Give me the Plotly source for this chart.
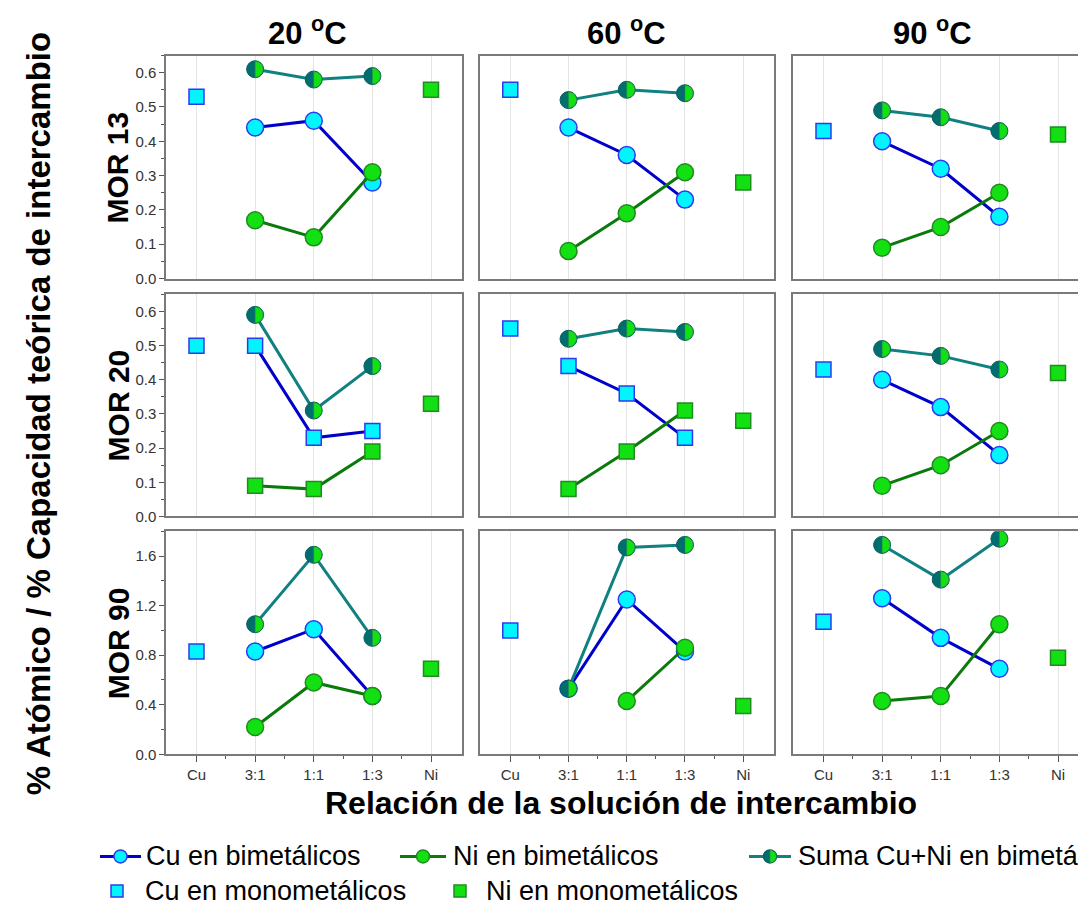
import plotly.graph_objects as go

# ---------------- data ----------------
categories = ["Cu", "3:1", "1:1", "1:3", "Ni"]
ratios = ["3:1", "1:1", "1:3"]
temperatures = ["20", "60", "90"]
samples = ["MOR 13", "MOR 20", "MOR 90"]

# each list: one entry per temperature (20, 60, 90 °C); inner lists follow `ratios`
cu_bi_mor13 = [[0.44, 0.46, 0.28], [0.44, 0.36, 0.23], [0.40, 0.32, 0.18]]
ni_bi_mor13 = [[0.17, 0.12, 0.31], [0.08, 0.19, 0.31], [0.09, 0.15, 0.25]]
sum_mor13 = [[0.61, 0.58, 0.59], [0.52, 0.55, 0.54], [0.49, 0.47, 0.43]]
cu_mono_mor13 = [0.53, 0.55, 0.43]
ni_mono_mor13 = [0.55, 0.28, 0.42]

cu_bi_mor20 = [[0.50, 0.23, 0.25], [0.44, 0.36, 0.23], [0.40, 0.32, 0.18]]
ni_bi_mor20 = [[0.09, 0.08, 0.19], [0.08, 0.19, 0.31], [0.09, 0.15, 0.25]]
sum_mor20 = [[0.59, 0.31, 0.44], [0.52, 0.55, 0.54], [0.49, 0.47, 0.43]]
cu_mono_mor20 = [0.50, 0.55, 0.43]
ni_mono_mor20 = [0.33, 0.28, 0.42]

cu_bi_mor90 = [[0.83, 1.01, 0.47], [0.53, 1.25, 0.83], [1.26, 0.94, 0.69]]
ni_bi_mor90 = [[0.22, 0.58, 0.47], [None, 0.43, 0.86], [0.43, 0.47, 1.05]]
sum_mor90 = [[1.05, 1.61, 0.94], [0.53, 1.67, 1.69], [1.69, 1.41, 1.74]]
cu_mono_mor90 = [0.83, 1.00, 1.07]
ni_mono_mor90 = [0.69, 0.39, 0.78]

legend_labels = ["Cu en bimetálicos", "Ni en bimetálicos", "Suma Cu+Ni en bimetálicos",
                 "Cu en monometálicos", "Ni en monometálicos"]

cu_bi = [cu_bi_mor13, cu_bi_mor20, cu_bi_mor90]
ni_bi = [ni_bi_mor13, ni_bi_mor20, ni_bi_mor90]
sum_bi = [sum_mor13, sum_mor20, sum_mor90]
cu_mono = [cu_mono_mor13, cu_mono_mor20, cu_mono_mor90]
ni_mono = [ni_mono_mor13, ni_mono_mor20, ni_mono_mor90]

# ---------------- style ----------------
W, H = 1078, 911
FONT = "Liberation Sans, Arial, sans-serif"
bi_symbols = [["circle"] * 3, ["square", "square", "circle"], ["circle"] * 3]

CYAN, BLUE_EDGE, BLUE_LINE = "#00F5FF", "#2B3BF0", "#0000CC"
LIME, GREEN_EDGE, GREEN_LINE = "#12E012", "#1E8C1E", "#0A7A0A"
TEAL_DARK, TEAL_LINE = "#006E6E", "#118080"
FRAME = "#7a7a7a"

col_px = [(166, 461.5), (480, 773.5), (793, 1078)]
row_px = [(56, 281), (297, 521), (536, 761)]
px_per_unit = (col_px[0][1] - col_px[0][0]) / 5.04
x_ranges = [[-0.52, 4.52], [-0.52, 4.52],
            [-0.52, -0.52 + (col_px[2][1] - col_px[2][0]) / px_per_unit]]
y_ranges = [[0, 0.65], [0, 0.65], [0, 1.8]]
y_dtick = [0.1, 0.1, 0.4]

R = 8.0  # half-marker radius in px
K = 0.5523


def half_shape(xref, yref, xv, yv, r=R):
    p = (f"M 0,{-r} C {K*r},{-r} {r},{-K*r} {r},0 "
         f"C {r},{K*r} {K*r},{r} 0,{r} Z")
    return dict(type="path", xref=xref, yref=yref, xsizemode="pixel", ysizemode="pixel",
                xanchor=xv, yanchor=yv, path=p, fillcolor=LIME,
                line=dict(color="#2a8a4a", width=0.6), layer="above")


fig = go.Figure()
layout = {}
shapes = []
annotations = []
x_ratio = [categories.index(q) for q in ratios]

for r, s in enumerate(samples):
    for c, t in enumerate(temperatures):
        k = r * 3 + c + 1
        xa = "x" if k == 1 else f"x{k}"
        ya = "y" if k == 1 else f"y{k}"
        sym = bi_symbols[r][c]
        msize = 17 if sym == "circle" else 15

        fig.add_trace(go.Scatter(
            x=x_ratio, y=cu_bi[r][c], mode="lines+markers", xaxis=xa, yaxis=ya,
            line=dict(color=BLUE_LINE, width=3),
            marker=dict(symbol=sym, size=msize, color=CYAN, line=dict(color=BLUE_EDGE, width=1.5)),
            showlegend=False, hoverinfo="skip"))
        fig.add_trace(go.Scatter(
            x=x_ratio, y=ni_bi[r][c], mode="lines+markers", xaxis=xa, yaxis=ya,
            line=dict(color=GREEN_LINE, width=3),
            marker=dict(symbol=sym, size=msize, color=LIME, line=dict(color=GREEN_EDGE, width=1.5)),
            showlegend=False, hoverinfo="skip"))
        fig.add_trace(go.Scatter(
            x=x_ratio, y=sum_bi[r][c], mode="lines+markers", xaxis=xa, yaxis=ya,
            line=dict(color=TEAL_LINE, width=3),
            marker=dict(symbol="circle", size=17, color=TEAL_DARK, line=dict(color="#0b5f5f", width=1)),
            showlegend=False, hoverinfo="skip"))
        for xv, yv in zip(x_ratio, sum_bi[r][c]):
            shapes.append(half_shape(xa, ya, xv, yv))
        fig.add_trace(go.Scatter(
            x=[categories.index("Cu")], y=[cu_mono[r][c]], mode="markers", xaxis=xa, yaxis=ya,
            marker=dict(symbol="square", size=15, color=CYAN, line=dict(color=BLUE_EDGE, width=1.5)),
            showlegend=False, hoverinfo="skip"))
        fig.add_trace(go.Scatter(
            x=[categories.index("Ni")], y=[ni_mono[r][c]], mode="markers", xaxis=xa, yaxis=ya,
            marker=dict(symbol="square", size=15, color=LIME, line=dict(color=GREEN_EDGE, width=1.5)),
            showlegend=False, hoverinfo="skip"))

        x0, x1 = col_px[c]
        y0, y1 = row_px[r]
        xdict = dict(
            domain=[x0 / W, x1 / W], range=x_ranges[c], anchor=ya,
            tickmode="array", tickvals=list(range(len(categories))), ticktext=categories,
            showticklabels=(r == 2), ticks="outside" if r == 2 else "", ticklen=6,
            tickcolor="#555", tickwidth=1,
            showgrid=True, gridcolor="#E4E4E4", gridwidth=1,
            showline=True, mirror=True, linecolor=FRAME, linewidth=1.5, zeroline=False,
            tickfont=dict(size=15, color="#333", family=FONT), fixedrange=True)
        if r == 2:
            xdict["minor"] = dict(ticks="outside", ticklen=3, tickmode="array",
                                  tickvals=[0.5, 1.5, 2.5, 3.5], tickcolor="#555", showgrid=False)
        ydict = dict(
            domain=[1 - y1 / H, 1 - y0 / H], range=y_ranges[r], anchor=xa,
            showticklabels=(c == 0), ticks="outside" if c == 0 else "", ticklen=5,
            tickcolor="#555", dtick=y_dtick[r], tick0=0, tickformat=".1f",
            showgrid=False, zeroline=False,
            showline=True, mirror=(c < 2), linecolor=FRAME, linewidth=1.5,
            tickfont=dict(size=15, color="#333", family=FONT), fixedrange=True)
        if c == 0:
            ydict["minor"] = dict(ticks="outside", ticklen=3, dtick=y_dtick[r] / 2,
                                  tick0=0, tickcolor="#555", showgrid=False)
        layout["xaxis" if k == 1 else f"xaxis{k}"] = xdict
        layout["yaxis" if k == 1 else f"yaxis{k}"] = ydict

# ---------------- text ----------------
title_px = [(307, 31), (626, 31), (932, 31)]
for (px, py), t in zip(title_px, temperatures):
    annotations.append(dict(text=f"<b>{t} <sup>o</sup>C</b>", x=px / W, y=1 - py / H,
                            xref="paper", yref="paper", showarrow=False,
                            font=dict(size=31, color="black", family=FONT),
                            xanchor="center", yanchor="middle"))
row_label_px = [(118, 169), (118, 409), (118, 649)]
for (px, py), s in zip(row_label_px, samples):
    annotations.append(dict(text=f"<b>{s}</b>", x=px / W, y=1 - py / H,
                            xref="paper", yref="paper", showarrow=False, textangle=-90,
                            font=dict(size=30, color="black", family=FONT),
                            xanchor="center", yanchor="middle"))
annotations.append(dict(text="<b>% Atómico / % Capacidad teórica de intercambio</b>",
                        x=38 / W, y=1 - 418 / H, xref="paper", yref="paper",
                        showarrow=False, textangle=-90,
                        font=dict(size=33, color="black", family=FONT),
                        xanchor="center", yanchor="middle"))
annotations.append(dict(text="<b>Relación de la solución de intercambio</b>",
                        x=621 / W, y=1 - 810 / H, xref="paper", yref="paper",
                        showarrow=False, font=dict(size=32, color="black", family=FONT),
                        xanchor="center", yanchor="middle"))

# ---------------- manual legend (auxiliary pixel axes) ----------------
LEG_TOP = 821
LEG_FONT = 27
layout["xaxis10"] = dict(domain=[0, 1], range=[0, W], visible=False, fixedrange=True, anchor="y10")
layout["yaxis10"] = dict(domain=[0, (H - LEG_TOP) / H], range=[H, LEG_TOP], visible=False,
                         fixedrange=True, anchor="x10")
row1, row2 = 864, 899
leg_lines = [(100, 141, BLUE_LINE, CYAN, BLUE_EDGE, 144),
             (400, 446, GREEN_LINE, LIME, GREEN_EDGE, 451),
             (749, 791, TEAL_LINE, TEAL_DARK, "#0b5f5f", 796)]
for i, (a, b, lc, fc, ec, tx) in enumerate(leg_lines):
    fig.add_trace(go.Scatter(x=[a, b], y=[row1, row1], mode="lines", xaxis="x10", yaxis="y10",
                             line=dict(color=lc, width=3), showlegend=False, hoverinfo="skip",
                             cliponaxis=False))
    fig.add_trace(go.Scatter(x=[(a + b) / 2], y=[row1], mode="markers", xaxis="x10", yaxis="y10",
                             marker=dict(symbol="circle", size=13, color=fc, line=dict(color=ec, width=1.5)),
                             showlegend=False, hoverinfo="skip", cliponaxis=False))
    if i == 2:
        shapes.append(half_shape("x10", "y10", (a + b) / 2, row1, r=6.2))
    annotations.append(dict(text=legend_labels[i], x=tx, y=row1, xref="x10", yref="y10",
                            showarrow=False, xanchor="left", yanchor="middle",
                            font=dict(size=LEG_FONT, color="black", family=FONT)))
leg_sq = [(117, CYAN, BLUE_EDGE, 143), (460, LIME, GREEN_EDGE, 484)]
for j, (sx, fc, ec, tx) in enumerate(leg_sq):
    fig.add_trace(go.Scatter(x=[sx], y=[row2], mode="markers", xaxis="x10", yaxis="y10",
                             marker=dict(symbol="square", size=12, color=fc, line=dict(color=ec, width=1.5)),
                             showlegend=False, hoverinfo="skip", cliponaxis=False))
    annotations.append(dict(text=legend_labels[3 + j], x=tx, y=row2, xref="x10", yref="y10",
                            showarrow=False, xanchor="left", yanchor="middle",
                            font=dict(size=LEG_FONT, color="black", family=FONT)))

fig.update_layout(
    width=W, height=H, margin=dict(l=0, r=0, t=0, b=0),
    paper_bgcolor="white", plot_bgcolor="white",
    showlegend=False, shapes=shapes, annotations=annotations,
    font=dict(family=FONT), **layout)

fig.write_html("out.html")
